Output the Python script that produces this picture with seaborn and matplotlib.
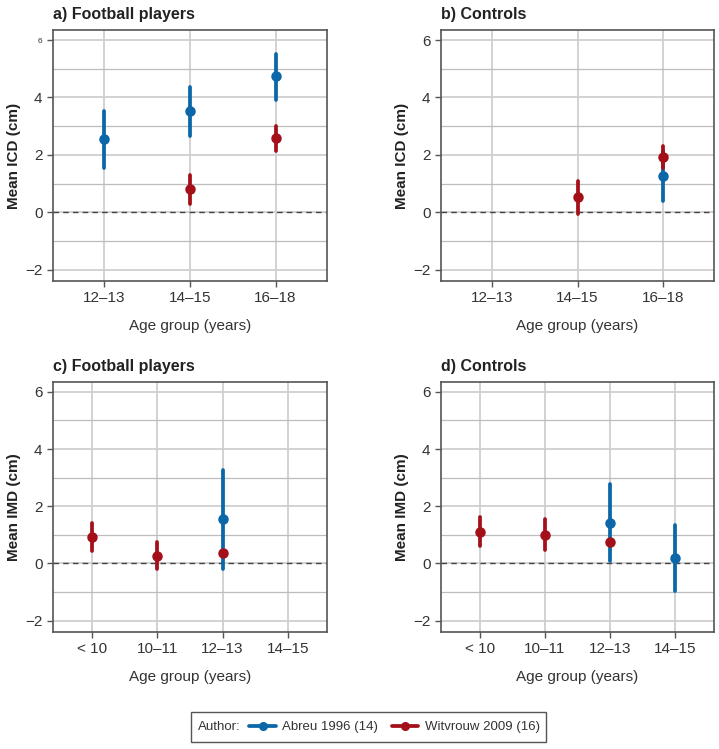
import pandas as pd
import matplotlib.pyplot as plt
import seaborn as sns
from matplotlib.lines import Line2D
from matplotlib.patches import Rectangle
from matplotlib.ticker import MultipleLocator

# age groups per row of panels
icd_groups = ['12–13', '14–15', '16–18']
imd_groups = ['< 10', '10–11', '12–13', '14–15']
authors = ['Abreu 1996 (14)', 'Witvrouw 2009 (16)']
colors = ['#0b67a7', '#a3101a']

# a) ICD football players: (group, mean, low, high)
a_abreu = [('12–13', 2.55, 1.55, 3.52), ('14–15', 3.52, 2.66, 4.38), ('16–18', 4.74, 3.92, 5.53)]
a_witv = [('14–15', 0.81, 0.27, 1.31), ('16–18', 2.58, 2.14, 3.01)]
# b) ICD controls
b_abreu = [('16–18', 1.26, 0.38, 2.14)]
b_witv = [('14–15', 0.52, -0.08, 1.1), ('16–18', 1.92, 1.55, 2.32)]
# c) IMD football players
c_abreu = [('12–13', 1.54, -0.2, 3.28)]
c_witv = [('< 10', 0.94, 0.45, 1.43), ('10–11', 0.27, -0.21, 0.74), ('12–13', 0.37, 0.37, 0.37)]
# d) IMD controls
d_abreu = [('12–13', 1.43, 0.1, 2.76), ('14–15', 0.18, -0.96, 1.33)]
d_witv = [('< 10', 1.11, 0.6, 1.61), ('10–11', 0.99, 0.46, 1.56), ('12–13', 0.74, 0.74, 0.74)]


def long_frame(abreu, witv):
    rows = []
    for author, data in zip(authors, [abreu, witv]):
        for grp, m, lo, hi in data:
            for v in (lo, m, hi):
                rows.append({'group': grp, 'author': author, 'value': v})
    return pd.DataFrame(rows)


sns.set_style('white')
plt.rcParams['font.family'] = ['Liberation Sans', 'DejaVu Sans']
plt.rcParams['text.color'] = '#222222'

fig = plt.figure(figsize=(7.19, 7.49), dpi=100)
positions = [
    [0.0737, 0.6248, 0.381, 0.335],
    [0.6134, 0.6248, 0.3797, 0.335],
    [0.0737, 0.1562, 0.381, 0.334],
    [0.6134, 0.1562, 0.3797, 0.334],
]
panels = [
    ('a) Football players', 'Mean ICD (cm)', icd_groups, a_abreu, a_witv),
    ('b) Controls', 'Mean ICD (cm)', icd_groups, b_abreu, b_witv),
    ('c) Football players', 'Mean IMD (cm)', imd_groups, c_abreu, c_witv),
    ('d) Controls', 'Mean IMD (cm)', imd_groups, d_abreu, d_witv),
]

for i, (pos, (title, ylab, groups, ab, wi)) in enumerate(zip(positions, panels)):
    ax = fig.add_axes(pos)
    df = long_frame(ab, wi)
    sns.pointplot(data=df, x='group', y='value', hue='author', order=groups,
                  hue_order=authors, palette=colors, estimator='median',
                  errorbar=('pi', 100), dodge=False, linestyle='none',
                  markers='o', markersize=5.5, err_kws={'linewidth': 2.7},
                  legend=False, ax=ax, zorder=3)
    ax.set_xlim(-0.6, len(groups) - 0.4)
    ax.set_ylim(-2.4, 6.35)
    ax.yaxis.set_major_locator(MultipleLocator(2))
    ax.yaxis.set_minor_locator(MultipleLocator(1))
    ax.grid(True, which='major', color='#cfcfcf', linewidth=1.3, zorder=0)
    ax.grid(True, which='minor', axis='y', color='#bdbdbd', linewidth=0.9, zorder=0)
    ax.set_axisbelow(True)
    ax.axhline(0, color='#444444', linestyle=(0, (4, 3)), linewidth=1.0, zorder=2)
    for s in ax.spines.values():
        s.set_color('#555555')
        s.set_linewidth(1.2)
    ax.tick_params(axis='both', which='major', direction='out', length=4, width=1,
                   color='#555555', labelsize=11, labelcolor='#333333', bottom=True, left=True)
    ax.tick_params(axis='y', which='minor', length=0)
    ax.set_yticks([-2, 0, 2, 4, 6])
    ax.set_yticklabels(['\u22122', '0', '2', '4', '6'])
    if i == 0:
        ax.get_yticklabels()[-1].set_fontsize(6)
    ax.set_xlabel('Age group (years)', fontsize=11, color='#333333', labelpad=10)
    ax.set_ylabel(ylab, fontsize=11, fontweight='bold', color='#222222', labelpad=3)
    ax.set_title(title, loc='left', fontsize=11.5, fontweight='bold', pad=8)

# legend box with the "Author:" label in front of the entries
fig.patches.append(Rectangle((0.266, 0.0093), 0.494, 0.040, transform=fig.transFigure,
                             fill=False, edgecolor='#555555', linewidth=1.0))
fig.text(0.276, 0.029, 'Author:', fontsize=9.5, color='#333333', va='center', ha='left')
handles = [Line2D([], [], color=c, linewidth=2.7, marker='o', markersize=5.5) for c in colors]
fig.legend(handles, authors, loc='center left', bbox_to_anchor=(0.347, 0.029),
           ncol=2, frameon=False, fontsize=9.5, labelcolor='#333333', borderpad=0,
           borderaxespad=0, handlelength=2.0, columnspacing=1.0, handletextpad=0.5)

plt.savefig('out.png', dpi=100)
